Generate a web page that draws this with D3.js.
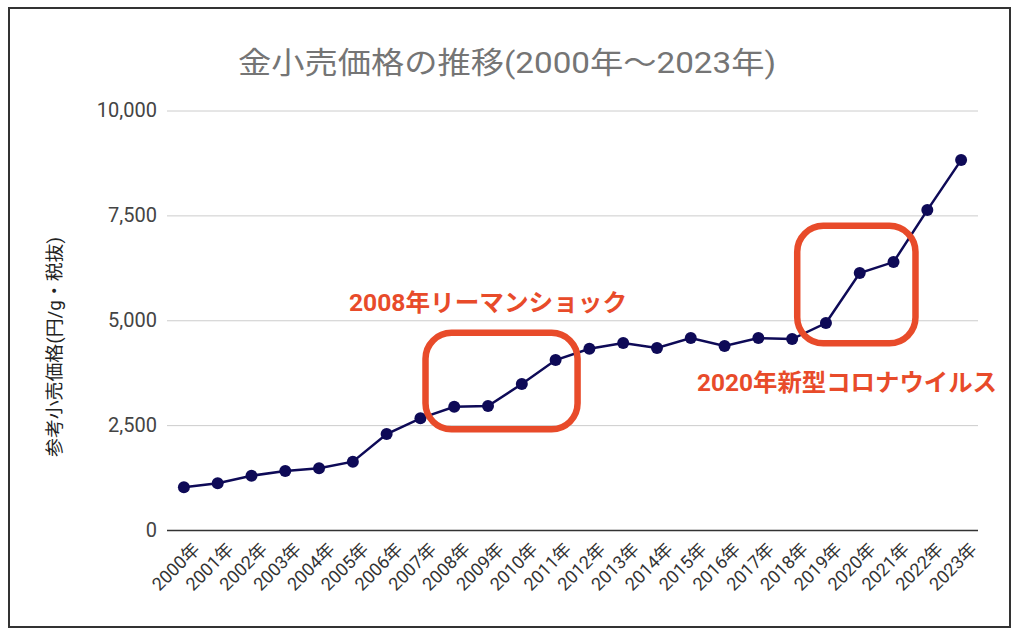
<!DOCTYPE html>
<html>
<head>
<meta charset="utf-8">
<script src="https://cdn.jsdelivr.net/npm/d3@7"></script>
<style>
  html, body { margin: 0; padding: 0; background: #fff; }
  svg { display: block; }
</style>
</head>
<body>
<svg id="chart" width="1024" height="636"></svg>
<script>
const years = ["2000年","2001年","2002年","2003年","2004年","2005年","2006年","2007年","2008年","2009年","2010年","2011年","2012年","2013年","2014年","2015年","2016年","2017年","2018年","2019年","2020年","2021年","2022年","2023年"];
const prices = [1018, 1113, 1294, 1406, 1470, 1628, 2288, 2662, 2939, 2955, 3480, 4051, 4320, 4457, 4337, 4576, 4385, 4576, 4552, 4933, 6125, 6387, 7626, 8818];
const yTicks = [0, 2500, 5000, 7500, 10000];
const titleText = "金小売価格の推移(2000年～2023年)";
const yAxisTitle = "参考小売価格(円/g・税抜)";
const annotations = [
  { text: "2008年リーマンショック", from: "2008年", to: "2011年", lo: 2400, hi: 4700 },
  { text: "2020年新型コロナウイルス", from: "2019年", to: "2021年", lo: 4450, hi: 7250 }
];

const svg = d3.select("#chart");
const font = "Roboto, 'Noto Sans CJK JP', sans-serif";
const red = "#E84B2A";
const navy = "#0E0A57";

// frame
svg.append("rect").attr("x", 9).attr("y", 8).attr("width", 1001).attr("height", 619)
  .attr("fill", "#fff").attr("stroke", "#333").attr("stroke-width", 2);

const x = d3.scalePoint().domain(years).range([167, 978]).padding(0.5);
const y = d3.scaleLinear().domain([0, 10000]).range([530, 110.5]);

// title
svg.append("text").attr("x", 507).attr("y", 73).attr("text-anchor", "middle")
  .attr("font-family", font).attr("font-size", 30).attr("fill", "#757575")
  .attr("textLength", 538).attr("lengthAdjust", "spacingAndGlyphs")
  .text(titleText);

// gridlines
const yAxis = d3.axisLeft(y).tickValues(yTicks).tickSize(-(978 - 167)).tickFormat(d3.format(","));
const gy = svg.append("g").attr("transform", "translate(167,0)").call(yAxis);
gy.select(".domain").remove();
gy.selectAll(".tick line").attr("stroke", "#cccccc").attr("stroke-width", 1);
gy.selectAll(".tick text").attr("x", -10).attr("font-family", font).attr("font-size", 20)
  .attr("fill", "#444");
gy.selectAll(".tick").filter(d => d === 0).select("line").attr("stroke", "#333").attr("stroke-width", 1.5);

// x axis labels
const xAxis = d3.axisBottom(x).tickSize(0);
const gx = svg.append("g").attr("transform", "translate(0,530)").call(xAxis);
gx.select(".domain").remove();
gx.selectAll(".tick text")
  .attr("font-family", font).attr("font-size", 18).attr("fill", "#333")
  .attr("text-anchor", "end")
  .attr("transform", "translate(12,16) rotate(-45)")
  .attr("x", 0).attr("y", 0).attr("dy", "0.35em");

// y axis title
svg.append("text")
  .attr("transform", "translate(55,347) rotate(-90)")
  .attr("text-anchor", "middle").attr("dy", "0.35em")
  .attr("font-family", font).attr("font-size", 18).attr("fill", "#222")
  .attr("textLength", 220).attr("lengthAdjust", "spacingAndGlyphs")
  .text(yAxisTitle);

// line
const line = d3.line().x((d, i) => x(years[i])).y(d => y(d));
svg.append("path").datum(prices).attr("d", line)
  .attr("fill", "none").attr("stroke", navy).attr("stroke-width", 2.5);
svg.append("g").selectAll("circle").data(prices).join("circle")
  .attr("cx", (d, i) => x(years[i])).attr("cy", d => y(d)).attr("r", 6)
  .attr("fill", navy);

// annotation boxes
const step = x.step();
annotations.forEach((a) => {
  const x0 = x(a.from) - step * 0.85, x1 = x(a.to) + step * 0.65;
  const y0 = y(a.hi), y1 = y(a.lo);
  svg.append("rect").attr("x", x0).attr("y", y0).attr("width", x1 - x0).attr("height", y1 - y0)
    .attr("rx", 26).attr("ry", 26)
    .attr("fill", "none").attr("stroke", red).attr("stroke-width", 6.5);
});

// annotation texts
svg.append("text").attr("x", 349).attr("y", 311)
  .attr("font-family", font).attr("font-size", 24).attr("font-weight", "bold").attr("fill", red)
  .attr("textLength", 278).attr("lengthAdjust", "spacingAndGlyphs")
  .text(annotations[0].text);
svg.append("text").attr("x", 697).attr("y", 391)
  .attr("font-family", font).attr("font-size", 24).attr("font-weight", "bold").attr("fill", red)
  .attr("textLength", 300).attr("lengthAdjust", "spacingAndGlyphs")
  .text(annotations[1].text);
</script>
</body>
</html>
